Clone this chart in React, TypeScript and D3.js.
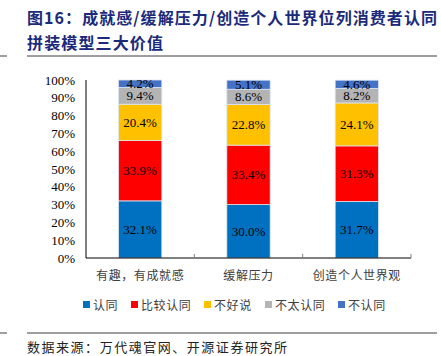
import React from "react";
import * as d3 from "d3";

const categories = ["有趣，有成就感", "缓解压力", "创造个人世界观"];
const seriesNames = ["认同", "比较认同", "不好说", "不太认同", "不认同"];
const agree = [32.1, 30.0, 31.7];
const fairlyAgree = [33.9, 33.4, 31.3];
const unsure = [20.4, 22.8, 24.1];
const disagreeSome = [9.4, 8.6, 8.2];
const disagree = [4.2, 5.1, 4.6];
const yTicks = [0, 10, 20, 30, 40, 50, 60, 70, 80, 90, 100];
const colors = ["#0070C0", "#FF0000", "#FFC000", "#B4B4B4", "#4472C4"];

const W = 441;
const H = 356;
const CJK = "'Noto Sans CJK SC', sans-serif";
const SERIF = "'Liberation Serif', 'Times New Roman', serif";

export default function App() {
  const series = [agree, fairlyAgree, unsure, disagreeSome, disagree];
  const rows = categories.map((c, i) => {
    const r: any = { cat: c };
    seriesNames.forEach((s, j) => (r[s] = series[j][i]));
    return r;
  });
  const stacked = d3.stack<any>().keys(seriesNames)(rows);

  const x = d3.scaleBand().domain(categories).range([86, 411]).paddingInner(0.6).paddingOuter(0.3);
  const y = d3.scaleLinear().domain([0, 100]).range([258, 80]);
  const step = x.step();
  const boundaries = categories.map((_, i) => 86 + step * (i + 1) * (325 / (step * 3)));

  const legendX = [83, 131, 204, 265, 338];

  return (
    <svg width={W} height={H} style={{ position: "absolute", left: 0, top: 0, background: "#fff" }}>
      <g fill="#1B2A7A" fontFamily={CJK} fontWeight="bold" fontSize={16}>
        <text x={27} y={24} textLength={410} lengthAdjust="spacing">图16：成就感/缓解压力/创造个人世界位列消费者认同</text>
        <text x={27} y={49} textLength={136} lengthAdjust="spacing">拼装模型三大价值</text>
      </g>
      <line x1={27} x2={437} y1={56} y2={56} stroke="#7F7F7F" strokeWidth={1.5} />
      <line x1={0} x2={7} y1={56} y2={56} stroke="#7F7F7F" strokeWidth={1.5} />

      {stacked.map((layer, j) => (
        <g key={layer.key}>
          {layer.map((d, i) => {
            const bx = x(categories[i])!;
            const y0 = y(d[0]);
            const y1 = y(d[1]);
            return (
              <g key={i}>
                <rect x={bx} y={y1} width={x.bandwidth()} height={y0 - y1} fill={colors[j]} stroke="#DCE6F2" strokeWidth={0.8} />
                <text x={bx + x.bandwidth() / 2} y={(y0 + y1) / 2 + 4.5} textAnchor="middle" fontFamily={SERIF} fontSize={13} fill="#000">
                  {series[j][i].toFixed(1)}%
                </text>
              </g>
            );
          })}
        </g>
      ))}

      <line x1={86} x2={86} y1={80} y2={258} stroke="#000" strokeWidth={1} />
      <line x1={86} x2={411} y1={258} y2={258} stroke="#000" strokeWidth={1} />
      {boundaries.map((bx, i) => (
        <line key={i} x1={bx} x2={bx} y1={254} y2={258} stroke="#808080" strokeWidth={1} />
      ))}
      {yTicks.map((t) => (
        <text key={t} x={75} y={y(t) + 4.5} textAnchor="end" fontFamily={SERIF} fontSize={13} fill="#000">
          {t}%
        </text>
      ))}
      {categories.map((c) => (
        <text key={c} x={x(c)! + x.bandwidth() / 2} y={280} textAnchor="middle" fontFamily={CJK} fontSize={12} letterSpacing={0.6} fill="#404040">
          {c}
        </text>
      ))}

      {seriesNames.map((s, j) => (
        <g key={s}>
          <rect x={legendX[j]} y={301} width={7} height={7} fill={colors[j]} />
          <text x={legendX[j] + 10} y={309.5} fontFamily={CJK} fontSize={12} letterSpacing={0.6} fill="#404040">
            {s}
          </text>
        </g>
      ))}

      <line x1={27} x2={437} y1={333} y2={333} stroke="#7F7F7F" strokeWidth={1.5} />
      <line x1={0} x2={7} y1={333} y2={333} stroke="#7F7F7F" strokeWidth={1.5} />
      <text x={27} y={352} fontFamily={CJK} fontSize={13} textLength={260} lengthAdjust="spacing" fill="#222">
        数据来源：万代魂官网、开源证券研究所
      </text>
    </svg>
  );
}
